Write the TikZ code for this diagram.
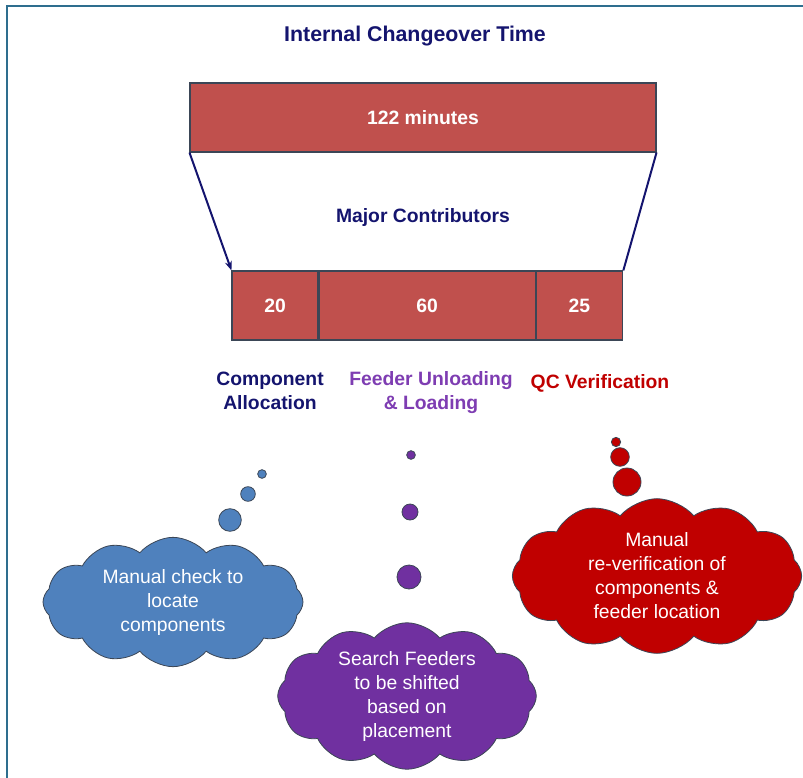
\documentclass[tikz,border=0pt]{standalone}
\usepackage{fontspec}
\setmainfont{Liberation Sans}
\usetikzlibrary{arrows.meta,positioning,shapes.symbols}
\definecolor{boxred}{HTML}{C0504D}
\definecolor{boxedge}{HTML}{3B4656}
\definecolor{navy}{HTML}{14146E}
\definecolor{lilac}{HTML}{7E3DB2}
\definecolor{qcred}{HTML}{C00000}
\definecolor{cblue}{HTML}{4F81BD}
\definecolor{cpurple}{HTML}{7030A0}
\definecolor{frame}{HTML}{2E6E8E}
\tikzset{%
        x = 0.75pt,
        y = -0.75pt,
        inner sep = 0pt
}
\tikzstyle{bar}=[
    draw = boxedge,
    fill = boxred,
    line width = 0.8pt,
    text = white,
    font = \fontsize{14.5}{18}\selectfont\bfseries,
    minimum height = 51.75pt
]
\tikzstyle{heading}=[
    align = center,
    font = \fontsize{14.5}{18}\selectfont\bfseries
]
\tikzstyle{thought}=[
    cloud,
    cloud puffs = 12,
    cloud puff arc = 100,
    cloud ignores aspect,
    draw = boxedge,
    line width = 0.6pt,
    text = white,
    align = center,
    font = \fontsize{14.5}{18}\selectfont
]
\tikzstyle{bubble}=[
    circle,
    draw = boxedge,
    line width = 0.6pt
]

\begin{document}
\begin{tikzpicture}
            \useasboundingbox (0,0) rectangle (803,778);
            \draw[frame, line width=1.5pt] (7,778) -- (7,6) -- (803,6);
            \node[heading, text=navy, font=\fontsize{16}{19}\selectfont\bfseries] (title) at (415,36) {Internal Changeover Time};
            \node[bar, minimum width=349.5pt] (total) at (423,117.5) {122 minutes};
            \node[heading, text=navy] (major) at (423,217) {Major Contributors};
            \node[bar, minimum width=64.5pt] (c20) at (275,305.5) {20};
            \node[bar, minimum width=162pt, right=0pt of c20] (c60) {60};
            \node[bar, minimum width=65pt, right=0pt of c60] (c25) {25};
            \draw[navy, line width=1.5pt, -{Stealth[length=7pt]}] (total.south west) -- (c20.north west);
            \draw[navy, line width=1.5pt] (total.south east) -- (c25.north east);

            \node[heading, text=navy] (alloc) at (270,391) {Component\\Allocation};
            \node[heading, text=lilac] (feeder) at (431,393) {Feeder Unloading\\\& Loading};
            \node[heading, text=qcred] (qc) at (600,383) {QC Verification};

            % thought bubbles
            \node[bubble, fill=cblue, minimum size=6.5pt] (b1) at (262,474) {};
            \node[bubble, fill=cblue, minimum size=11pt] (b2) at (248,494) {};
            \node[bubble, fill=cblue, minimum size=17pt] (b3) at (230,520) {};
            \node[bubble, fill=cpurple, minimum size=6.5pt] (p1) at (411,455) {};
            \node[bubble, fill=cpurple, minimum size=12pt] (p2) at (410,512) {};
            \node[bubble, fill=cpurple, minimum size=18pt] (p3) at (409,577) {};
            \node[bubble, fill=qcred, minimum size=7pt] (r1) at (616,442) {};
            \node[bubble, fill=qcred, minimum size=14pt] (r2) at (620,457) {};
            \node[bubble, fill=qcred, minimum size=21pt] (r3) at (627,482) {};

            % clouds
            \node[thought, fill=cblue, minimum width=195pt, minimum height=97pt] (cloudA) at (173,602) {Manual check to\\locate\\components};
            \node[thought, fill=cpurple, minimum width=194pt, minimum height=90pt] (cloudB) at (407,696) {Search Feeders\\to be shifted\\based on\\placement};
            \node[thought, fill=qcred, minimum width=217pt, minimum height=116pt] (cloudC) at (657,576) {Manual\\re-verification of\\components \&\\feeder location};
        \end{tikzpicture}
\end{document}
